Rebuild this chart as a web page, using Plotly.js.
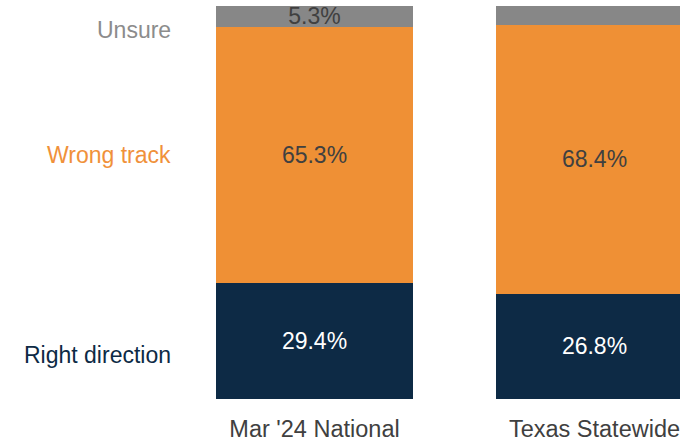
<!DOCTYPE html>
<html>
<head>
<meta charset="utf-8">
<script src="https://cdn.plot.ly/plotly-3.0.1.min.js"></script>
<style>html,body{margin:0;padding:0;background:#fff;}#chart{width:680px;height:442px;}</style>
</head>
<body>
<div id="chart"></div>
<script>
var categories = ["Mar '24 National", "Texas Statewide"];
var rightDirection = [29.4, 26.8];
var wrongTrack = [65.3, 68.4];
var unsure = [5.3, 4.8];
var unsureShown = [true, false];

var FONT = "Arial, 'Liberation Sans', sans-serif";
function pct(arr, shown) {
  return arr.map(function (v, i) { return (shown && !shown[i]) ? '' : v.toFixed(1) + '%'; });
}

var traces = [
  {type: 'bar', name: 'Right direction', x: categories, y: rightDirection,
   text: pct(rightDirection), textposition: 'inside', insidetextanchor: 'middle',
   constraintext: 'none', textfont: {color: '#ffffff', size: 23, family: FONT},
   marker: {color: '#0d2a45'}, hoverinfo: 'skip'},
  {type: 'bar', name: 'Wrong track', x: categories, y: wrongTrack,
   text: pct(wrongTrack), textposition: 'inside', insidetextanchor: 'middle',
   constraintext: 'none', textfont: {color: '#404040', size: 23, family: FONT},
   marker: {color: '#ef9035'}, hoverinfo: 'skip'},
  {type: 'bar', name: 'Unsure', x: categories, y: unsure,
   text: pct(unsure, unsureShown), textposition: 'inside', insidetextanchor: 'middle',
   constraintext: 'none', textfont: {color: '#404040', size: 23, family: FONT},
   marker: {color: '#878787'}, hoverinfo: 'skip'}
];

var layout = {
  width: 680, height: 442,
  margin: {l: 0, r: 0, t: 6, b: 43, pad: 0},
  barmode: 'stack', bargap: 0.2965,
  showlegend: false,
  paper_bgcolor: '#ffffff', plot_bgcolor: '#ffffff',
  font: {family: FONT, size: 23, color: '#404040'},
  xaxis: {type: 'category', range: [-1.1232, 1.3054], showgrid: false, zeroline: false,
          showline: false, ticks: '', tickfont: {size: 23.5, color: '#404040', family: FONT},
          ticklabelstandoff: 13, fixedrange: true},
  yaxis: {range: [0, 100], visible: false, fixedrange: true},
  annotations: [
    {xref: 'paper', yref: 'y', x: 173/680, y: 94.0, xanchor: 'right', yanchor: 'middle',
     text: 'Unsure', showarrow: false, font: {size: 23, color: '#8c8c8c', family: FONT}},
    {xref: 'paper', yref: 'y', x: 173/680, y: 62.1, xanchor: 'right', yanchor: 'middle',
     text: 'Wrong track', showarrow: false, font: {size: 23, color: '#f0913a', family: FONT}},
    {xref: 'paper', yref: 'y', x: 173/680, y: 11.2, xanchor: 'right', yanchor: 'middle',
     text: 'Right direction', showarrow: false, font: {size: 23, color: '#0d2a45', family: FONT}}
  ]
};

Plotly.newPlot('chart', traces, layout, {displayModeBar: false, staticPlot: true});
</script>
</body>
</html>
